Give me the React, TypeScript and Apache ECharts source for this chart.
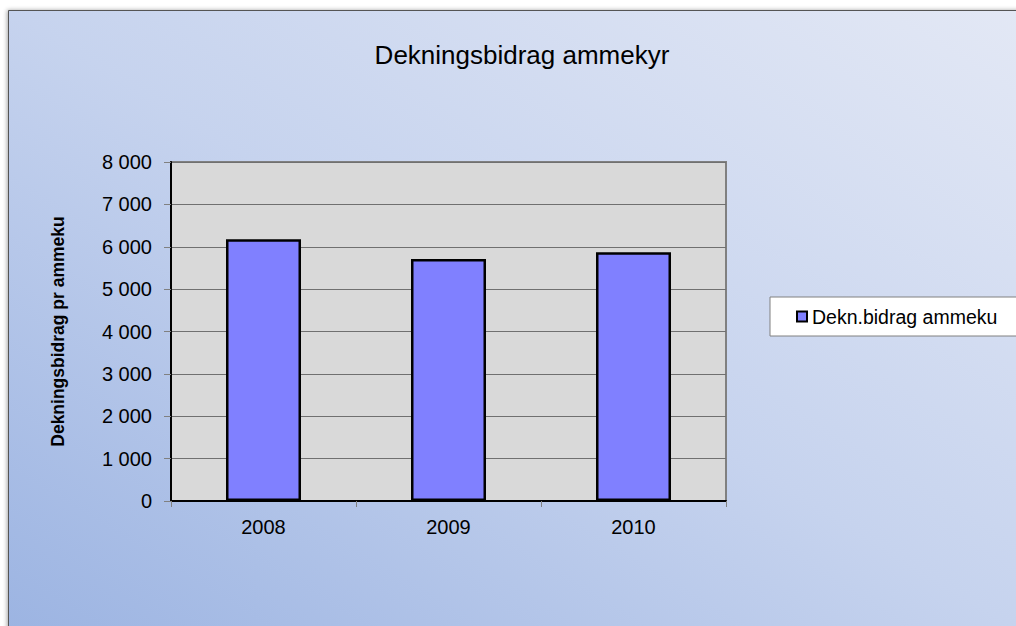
import React, { useEffect, useRef } from "react";
import * as echarts from "echarts";

const categories = ["2008", "2009", "2010"];
const seriesName = "Dekn.bidrag ammeku";
const values = [6175, 5710, 5870];
const yTicks = { min: 0, max: 8000, interval: 1000 };
const titleText = "Dekningsbidrag ammekyr";
const yAxisName = "Dekningsbidrag pr ammeku";

const FONT = "'Liberation Sans', Arial, sans-serif";

const fmt = (v: number) => String(v).replace(/\B(?=(\d{3})+(?!\d))/g, " ");

export default function App() {
  const ref = useRef<HTMLDivElement>(null);
  useEffect(() => {
    if (!ref.current) return;
    const chart = echarts.init(ref.current, undefined, { renderer: "svg" });
    chart.setOption({
      animation: false,
      textStyle: { fontFamily: FONT },
      graphic: [
        {
          type: "rect",
          z: -10,
          silent: true,
          shape: { x: 8.5, y: 10.5, width: 1012, height: 620 },
          style: {
            fill: {
              type: "linear",
              x: 0,
              y: 1,
              x2: 1,
              y2: 0,
              colorStops: [
                { offset: 0, color: "#9cb4e2" },
                { offset: 0.5, color: "#c6d3ee" },
                { offset: 1, color: "#e3e8f5" },
              ],
            },
            stroke: "#555555",
            lineWidth: 1,
            shadowBlur: 4,
            shadowColor: "rgba(0,0,0,0.35)",
            shadowOffsetX: -1,
            shadowOffsetY: 0,
          },
        },
        {
          type: "text",
          x: 522,
          y: 55,
          silent: true,
          style: {
            text: titleText,
            fontFamily: FONT,
            fontSize: 26,
            fill: "#000",
            textAlign: "center",
            textVerticalAlign: "middle",
          },
        },
      ],
      legend: {
        left: 770,
        top: 297,
        orient: "vertical",
        backgroundColor: "#ffffff",
        borderColor: "#808080",
        borderWidth: 1,
        padding: [9, 40, 9, 26],
        itemWidth: 10,
        itemHeight: 10,
        icon: "rect",
        textStyle: { fontFamily: FONT, fontSize: 19.5, color: "#000", lineHeight: 21 },
        data: [seriesName],
      },
      grid: {
        left: 171,
        right: 290,
        top: 162,
        bottom: 125,
        show: true,
        backgroundColor: "#d9d9d9",
        borderColor: "#808080",
        borderWidth: 2,
      },
      xAxis: {
        type: "category",
        data: categories,
        boundaryGap: true,
        axisLine: { show: true, lineStyle: { color: "#000", width: 2 } },
        axisTick: {
          show: true,
          alignWithLabel: false,
          interval: 0,
          length: 6,
          lineStyle: { color: "#808080", width: 1 },
        },
        axisLabel: { fontFamily: FONT, fontSize: 20, color: "#000", margin: 16 },
        splitLine: { show: false },
      },
      yAxis: {
        type: "value",
        min: yTicks.min,
        max: yTicks.max,
        interval: yTicks.interval,
        name: yAxisName,
        nameLocation: "middle",
        nameRotate: 90,
        nameGap: 104,
        nameTextStyle: { fontFamily: FONT, fontSize: 17.5, fontWeight: "bold", color: "#000" },
        axisLine: { show: true, lineStyle: { color: "#000", width: 2 } },
        axisTick: { show: true, length: 7, lineStyle: { color: "#808080", width: 1 } },
        axisLabel: {
          fontFamily: FONT,
          fontSize: 20,
          color: "#000",
          margin: 19,
          formatter: (v: number) => fmt(v),
        },
        splitLine: { show: true, lineStyle: { color: "#707070", width: 1.2 } },
      },
      series: [
        {
          name: seriesName,
          type: "bar",
          data: values,
          barWidth: 75,
          itemStyle: { color: "#8080ff", borderColor: "#000", borderWidth: 2.5 },
        },
      ],
    });
    return () => chart.dispose();
  }, []);
  return (
    <div
      ref={ref}
      style={{ position: "absolute", left: 0, top: 0, width: 1016, height: 626 }}
    />
  );
}
